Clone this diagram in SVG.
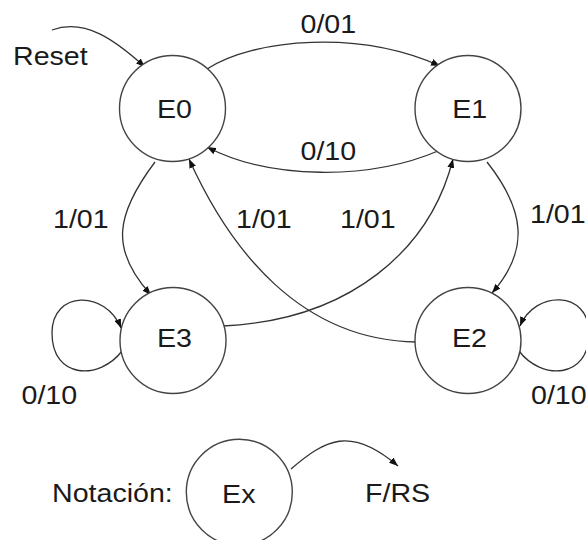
<svg xmlns="http://www.w3.org/2000/svg" width="586" height="540" viewBox="0 0 586 540">
<style>
.node{fill:#fff;stroke:#444;stroke-width:1.4}
.edge{fill:none;stroke:#333;stroke-width:1.3}
text{font-family:"Liberation Sans",Arial,sans-serif;font-size:26px;fill:#1a1a1a}
.c{text-anchor:middle}
</style>
<defs>
<marker id="arr" viewBox="0 0 9 7" refX="9" refY="3.5" markerWidth="9" markerHeight="7" markerUnits="userSpaceOnUse" orient="auto">
<path d="M0,0 L9,3.5 L0,7 z" fill="#111"/>
</marker>
</defs>
<rect width="586" height="540" fill="#fff"/>
<g id="connectors">
<path class="edge" d="M52,30 C85,18 115,40 145,67" marker-end="url(#arr)"/>
<path class="edge" d="M207,69 C255,38 360,30 440,66" marker-end="url(#arr)"/>
<path class="edge" d="M438,151 C370,180 270,180 207,147" marker-end="url(#arr)"/>
<path class="edge" d="M155,162 C115,215 110,250 151,295" marker-end="url(#arr)"/>
<path class="edge" d="M487,162 C525,210 530,250 492,293" marker-end="url(#arr)"/>
<path class="edge" d="M416,342 C300,340 230,250 189,159" marker-end="url(#arr)"/>
<path class="edge" d="M223,326 C350,320 430,250 453,159" marker-end="url(#arr)"/>
<path class="edge" d="M122,351 C100,380 52,380 52,333 C52,290 106,290 121,328" marker-end="url(#arr)"/>
<path class="edge" d="M519,351 C541,380 589,380 589,333 C589,290 535,290 520,326" marker-end="url(#arr)"/>
<path class="edge" d="M291,469 C325,440 350,425 398,466" marker-end="url(#arr)"/>
</g>
<g id="E0"><circle class="node" cx="172.5" cy="108.5" r="53"/><text class="c" x="174.5" y="118" textLength="35" lengthAdjust="spacingAndGlyphs">E0</text></g>
<g id="E1"><circle class="node" cx="468" cy="108.5" r="53"/><text class="c" x="469.7" y="118" textLength="35" lengthAdjust="spacingAndGlyphs">E1</text></g>
<g id="E3"><circle class="node" cx="173" cy="340.5" r="53"/><text class="c" x="174.5" y="347" textLength="35" lengthAdjust="spacingAndGlyphs">E3</text></g>
<g id="E2"><circle class="node" cx="468" cy="340.5" r="53"/><text class="c" x="469.5" y="347" textLength="35" lengthAdjust="spacingAndGlyphs">E2</text></g>
<g id="Ex"><circle class="node" cx="239.3" cy="492.3" r="53"/><text class="c" x="238.8" y="503" textLength="33.4" lengthAdjust="spacingAndGlyphs">Ex</text></g>
<g id="labels">
<text x="13" y="65" textLength="74.7" lengthAdjust="spacingAndGlyphs">Reset</text>
<text x="300.5" y="33" textLength="55.7" lengthAdjust="spacingAndGlyphs">0/01</text>
<text x="300.5" y="160" textLength="55.7" lengthAdjust="spacingAndGlyphs">0/10</text>
<text x="53" y="228" textLength="55.7" lengthAdjust="spacingAndGlyphs">1/01</text>
<text x="236" y="228" textLength="55.7" lengthAdjust="spacingAndGlyphs">1/01</text>
<text x="340" y="228" textLength="55.7" lengthAdjust="spacingAndGlyphs">1/01</text>
<text x="530" y="223" textLength="55.7" lengthAdjust="spacingAndGlyphs">1/01</text>
<text x="21.5" y="404" textLength="55.7" lengthAdjust="spacingAndGlyphs">0/10</text>
<text x="531" y="404" textLength="55.7" lengthAdjust="spacingAndGlyphs">0/10</text>
<text x="52" y="502" textLength="120.8" lengthAdjust="spacingAndGlyphs">Notación:</text>
<text x="365" y="502" textLength="65.2" lengthAdjust="spacingAndGlyphs">F/RS</text>
</g>
</svg>
